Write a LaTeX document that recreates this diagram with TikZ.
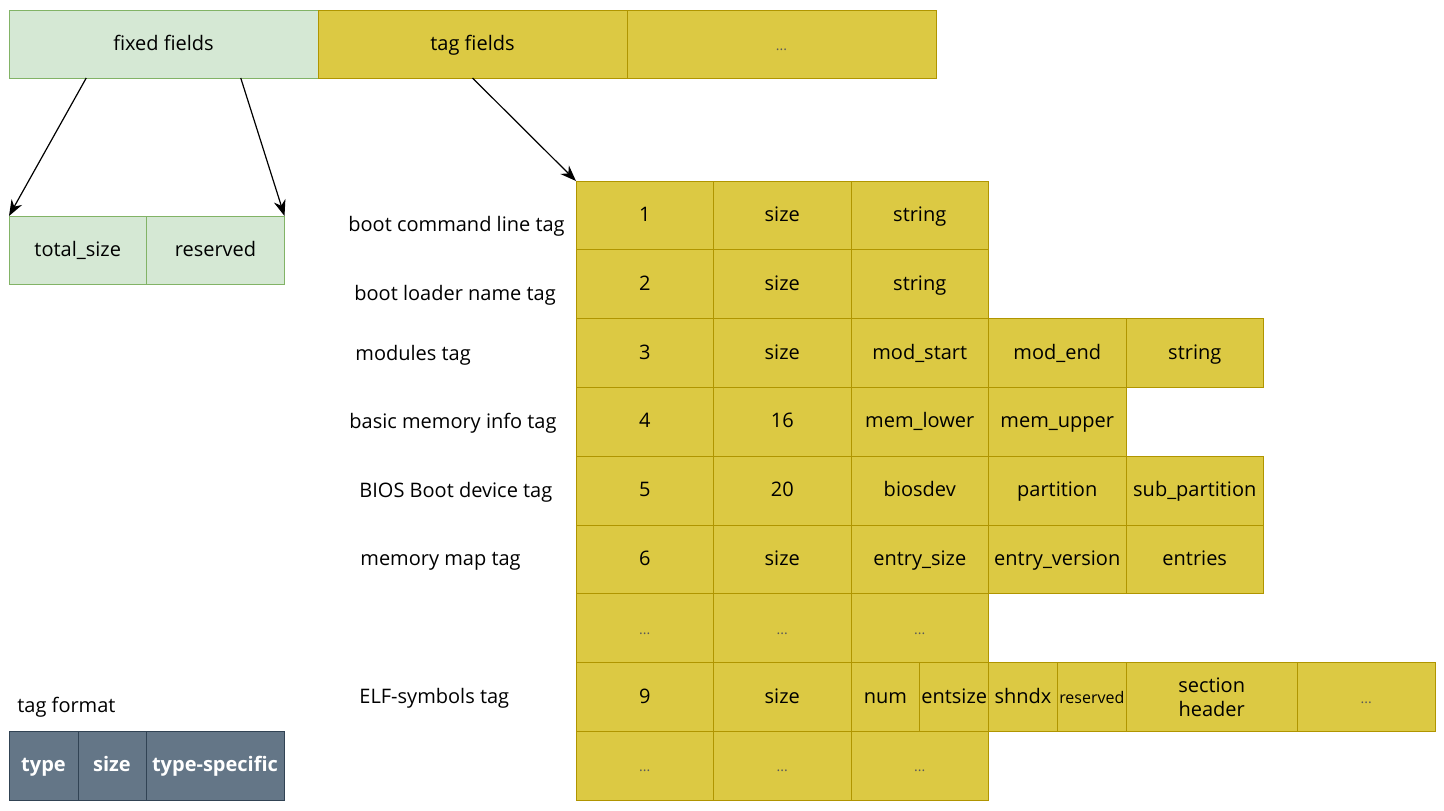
\documentclass[tikz,border=0pt]{standalone}
\usepackage{fontspec}
\setmainfont{Open Sans}
\usetikzlibrary{positioning,calc,arrows.meta}

\definecolor{fixedfill}{HTML}{D5E8D4}
\definecolor{fixedline}{HTML}{82B366}
\definecolor{tagfill}{HTML}{DCC943}
\definecolor{tagline}{HTML}{B09500}
\definecolor{fmtfill}{HTML}{647687}
\definecolor{fmtline}{HTML}{314354}

\begin{document}
\begin{tikzpicture}[x=0.5pt,y=-0.5pt,node distance=0pt,
	% header boxes
	fixedcell/.style={
		rectangle,
		draw=fixedline,
		fill=fixedfill,
		minimum height=34pt,
		outer sep=0pt, inner sep=0pt,
		text height=1.6ex, text depth=.45ex
		},
	headcell/.style={
		rectangle,
		draw=tagline,
		fill=tagfill,
		minimum width=154.5pt,
		minimum height=34pt,
		outer sep=0pt, inner sep=0pt,
		text height=1.6ex, text depth=.45ex
		},
	% one field of a tag
	tagcell/.style={
		rectangle,
		draw=tagline,
		fill=tagfill,
		minimum width=68.75pt,
		minimum height=34.4pt,
		outer sep=0pt, inner sep=0pt,
		text height=1.6ex, text depth=.45ex
		},
	halfcell/.style={tagcell, minimum width=34.4pt},
	% the little legend at the bottom
	fmtcell/.style={
		rectangle,
		draw=fmtline,
		fill=fmtfill,
		minimum height=34.5pt,
		outer sep=0pt, inner sep=0pt,
		text height=1.6ex, text depth=.45ex,
		text=white,
		font=\bfseries
		},
	dots/.style={font=\scriptsize, text=black!65},
	tagname/.style={anchor=west, inner sep=0pt},
	pointer/.style={-{Stealth[length=8pt,width=6pt]}, semithick}
	]

	\useasboundingbox (0,0) rectangle (1444,810);

	% top line
	\node (fixed) [fixedcell, minimum width=154.5pt, anchor=north west] at (9,10) {fixed fields};
	\node (tagf) [headcell, right=of fixed] {tag fields};
	\node (more) [headcell, right=of tagf, dots] {...};

	\node (total) [fixedcell, minimum width=68.75pt, anchor=north west] at (9,216) {total\_size};
	\node (resv) [fixedcell, minimum width=69pt, right=of total] {reserved};

	% tags
	\node (r1c1) [tagcell, anchor=north west] at (576,181) {1};
	\node (r1c2) [tagcell, right=of r1c1] {size};
	\node (r1c3) [tagcell, right=of r1c2] {string};

	\node (r2c1) [tagcell, below=of r1c1] {2};
	\node (r2c2) [tagcell, right=of r2c1] {size};
	\node (r2c3) [tagcell, right=of r2c2] {string};

	\node (r3c1) [tagcell, below=of r2c1] {3};
	\node (r3c2) [tagcell, right=of r3c1] {size};
	\node (r3c3) [tagcell, right=of r3c2] {mod\_start};
	\node (r3c4) [tagcell, right=of r3c3] {mod\_end};
	\node (r3c5) [tagcell, right=of r3c4] {string};

	\node (r4c1) [tagcell, below=of r3c1] {4};
	\node (r4c2) [tagcell, right=of r4c1] {16};
	\node (r4c3) [tagcell, right=of r4c2] {mem\_lower};
	\node (r4c4) [tagcell, right=of r4c3] {mem\_upper};

	\node (r5c1) [tagcell, below=of r4c1] {5};
	\node (r5c2) [tagcell, right=of r5c1] {20};
	\node (r5c3) [tagcell, right=of r5c2] {biosdev};
	\node (r5c4) [tagcell, right=of r5c3] {partition};
	\node (r5c5) [tagcell, right=of r5c4] {sub\_partition};

	\node (r6c1) [tagcell, below=of r5c1] {6};
	\node (r6c2) [tagcell, right=of r6c1] {size};
	\node (r6c3) [tagcell, right=of r6c2] {entry\_size};
	\node (r6c4) [tagcell, right=of r6c3] {entry\_version};
	\node (r6c5) [tagcell, right=of r6c4] {entries};

	\node (r7c1) [tagcell, below=of r6c1, dots] {...};
	\node (r7c2) [tagcell, right=of r7c1, dots] {...};
	\node (r7c3) [tagcell, right=of r7c2, dots] {...};

	\node (r8c1) [tagcell, below=of r7c1] {9};
	\node (r8c2) [tagcell, right=of r8c1] {size};
	\node (r8c3) [halfcell, right=of r8c2] {num};
	\node (r8c4) [halfcell, right=of r8c3] {entsize};
	\node (r8c5) [halfcell, right=of r8c4] {shndx};
	\node (r8c6) [halfcell, right=of r8c5, font=\footnotesize] {reserved};
	\node (r8c7) [tagcell, minimum width=85.5pt, right=of r8c6, align=center, text height={}, text depth={}] {section\\header};
	\node (r8c8) [tagcell, minimum width=69pt, right=of r8c7, dots] {...};

	\node (r9c1) [tagcell, below=of r8c1, dots] {...};
	\node (r9c2) [tagcell, right=of r9c1, dots] {...};
	\node (r9c3) [tagcell, right=of r9c2, dots] {...};

	% tag names
	\node (cmdline) [tagname] at (348,226) {boot command line tag};
	\node (ldrname) [tagname] at (354,295) {boot loader name tag};
	\node (modules) [tagname] at (355,355) {modules tag};
	\node (meminfo) [tagname] at (349,423) {basic memory info tag};
	\node (bootdev) [tagname] at (359,492) {BIOS Boot device tag};
	\node (memmap) [tagname] at (360,561) {memory map tag};
	\node (elfsym) [tagname] at (359,698) {ELF-symbols tag};

	% tag format legend
	\node (fmtlabel) [tagname] at (17,707) {tag format};
	\node (ftype) [fmtcell, minimum width=34.5pt, anchor=north west] at (9,731) {type};
	\node (fsize) [fmtcell, minimum width=34pt, right=of ftype] {size};
	\node (fspec) [fmtcell, minimum width=69pt, right=of fsize] {type-specific};

	\draw [pointer] ($(fixed.south west)!0.25!(fixed.south east)$) -- (total.north west);
	\draw [pointer] ($(fixed.south west)!0.75!(fixed.south east)$) -- (resv.north east);
	\draw [pointer] (tagf.south) -- (r1c1.north west);

\end{tikzpicture}
\end{document}
